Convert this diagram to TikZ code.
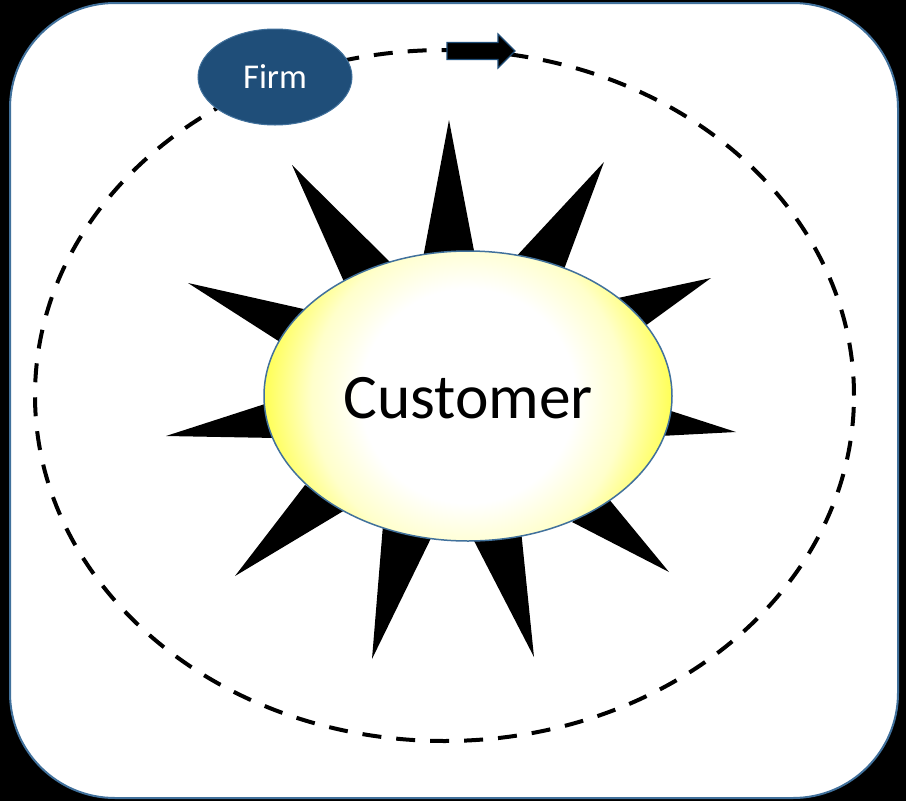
\documentclass[tikz,border=0pt]{standalone}
\usepackage{fontspec}
\setmainfont{Carlito}
\usetikzlibrary{shapes.geometric}
\definecolor{firmblue}{HTML}{1F4E79}
\definecolor{edgeblue}{HTML}{41719C}
\definecolor{glow}{HTML}{FFFF50}
\pgfdeclareradialshading{custglow}{\pgfpointorigin}{
  color(0bp)=(white); color(13bp)=(white); color(19bp)=(glow!30!white); color(25bp)=(glow); color(50bp)=(glow)}
\tikzset{
  x=1pt,y=-1pt,
  panel/.style={draw=edgeblue,line width=2pt,fill=white,rounded corners=105pt},
  orbit/.style={ellipse,draw=black,line width=4pt,dash pattern=on 19pt off 15pt,inner sep=0pt,outer sep=0pt,minimum width=819pt,minimum height=691pt},
  firmnode/.style={ellipse,fill=firmblue,draw=edgeblue,line width=1pt,inner sep=0pt,outer sep=0pt,minimum width=154pt,minimum height=96pt,text=white,font=\fontsize{34.8pt}{36pt}\selectfont,text height=22pt,text depth=0pt},
  custnode/.style={ellipse,draw=edgeblue,line width=1.5pt,inner sep=0pt,outer sep=0pt,minimum width=408pt,minimum height=290pt,font=\fontsize{63.4pt}{66pt}\selectfont,text height=44pt,text depth=0pt,
    path picture={\shade[shading=custglow] (path picture bounding box.center) circle (206pt);}},
  ray/.style={fill=black,draw=none},
  motion/.style={fill=black,draw=firmblue,line width=1.2pt,line join=miter}
}
\begin{document}
\begin{tikzpicture}
\useasboundingbox (0,0) rectangle (906,801);
\fill[black] (0,0) rectangle (906,801);
\draw[panel] (10,3) rectangle (898,798);
\node[orbit] (orbit) at (444.5,395.5) {};
% rays
\fill[ray] (449,120) -- (423,258) -- (475,256) -- cycle;
\fill[ray] (604,162) -- (513,260) -- (563,272) -- cycle;
\fill[ray] (711,278) -- (618,298) -- (645,326) -- cycle;
\fill[ray] (736,432) -- (668,410) -- (660,436) -- cycle;
\fill[ray] (669,572) -- (608,498) -- (572,522) -- cycle;
\fill[ray] (534,657) -- (521,530) -- (471,535) -- cycle;
\fill[ray] (372,659) -- (434,532) -- (383,525) -- cycle;
\fill[ray] (235,576) -- (305,485) -- (345,510) -- cycle;
\fill[ray] (166,436) -- (268,403) -- (276,438) -- cycle;
\fill[ray] (188,283) -- (308,310) -- (280,342) -- cycle;
\fill[ray] (292,165) -- (392,264) -- (345,284) -- cycle;
\node[custnode] (customer) at (468,396) {Customer};
\node[firmnode] (firm) at (275,77) {Firm};
\draw[motion] (447,42.5) -- (498,42.5) -- (498,34) -- (515,51) -- (498,68) -- (498,59.5) -- (447,59.5) -- cycle;
\end{tikzpicture}
\end{document}
